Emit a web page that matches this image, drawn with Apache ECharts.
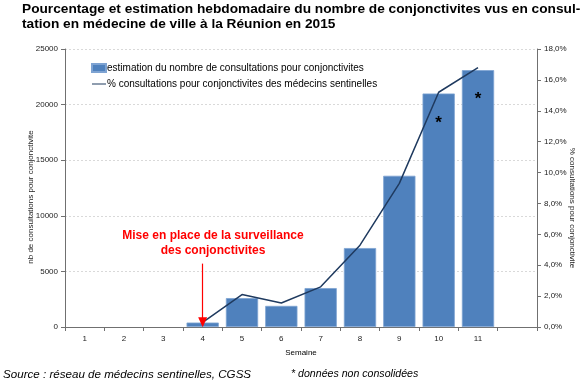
<!DOCTYPE html>
<html><head><meta charset="utf-8">
<script src="https://cdn.jsdelivr.net/npm/echarts@6/dist/echarts.min.js"></script>
<style>html,body{margin:0;padding:0;background:#fff}#c{width:582px;height:387px}</style>
</head><body><div id="c"></div>
<script>
const weeks = ['1','2','3','4','5','6','7','8','9','10','11',''];
const consultations = [null,null,null,400,2600,1900,3500,7100,13600,21000,23100,null];
const percent = [null,null,null,0.3,2.1,1.55,2.6,5.3,9.3,15.2,16.8,null];
const unconsolidated = ['10','11'];

const chart = echarts.init(document.getElementById('c'));
const FONT = 'Liberation Sans, Arial, sans-serif';
chart.setOption({
  animation:false,
  textStyle:{fontFamily:FONT},
  title:{
    text:'Pourcentage et estimation hebdomadaire du nombre de conjonctivites vus en consul-\ntation en médecine de ville à la Réunion en 2015',
    left:17, top:-3,
    textStyle:{fontSize:13.7,fontWeight:'bold',color:'#000',lineHeight:15,fontFamily:FONT}
  },
  legend:{
    left:86, top:58, orient:'vertical', itemGap:6, itemWidth:14, itemHeight:8,
    textStyle:{fontSize:10,color:'#000',fontFamily:FONT,padding:[0,0,0,-4]},
    data:[
      {name:'estimation du nombre de consultations pour conjonctivites', icon:'rect'},
      {name:'% consultations pour conjonctivites des médecins sentinelles', icon:'path://M0,4 L14,4 L14,5 L0,5 Z'}
    ]
  },
  grid:{left:65, right:45, top:49, bottom:60, containLabel:false},
  xAxis:{
    type:'category', data:weeks, boundaryGap:true,
    name:'Semaine', nameLocation:'middle', nameGap:22,
    nameTextStyle:{fontSize:8,color:'#000'},
    axisLine:{lineStyle:{color:'#707070'}},
    axisTick:{show:true,alignWithLabel:false,length:4,lineStyle:{color:'#707070'}},
    axisLabel:{fontSize:8,color:'#222',margin:8}
  },
  yAxis:[
    {type:'value', min:0, max:25000, interval:5000,
     axisLine:{show:true,lineStyle:{color:'#707070'}},
     axisTick:{show:true,length:4,lineStyle:{color:'#707070'}},
     axisLabel:{fontSize:8,color:'#222',margin:7,formatter:v=>String(v)},
     splitLine:{show:true,lineStyle:{color:'#d9d9d9',type:[2,2]}}},
    {type:'value', min:0, max:18, interval:2, position:'right',
     axisLine:{show:true,lineStyle:{color:'#707070'}},
     axisTick:{show:true,length:4,inside:false,lineStyle:{color:'#707070'}},
     axisLabel:{fontSize:8,color:'#222',margin:7,formatter:v=>v.toFixed(1).replace('.',',')+'%'},
     splitLine:{show:false}}
  ],
  series:[
    {name:'estimation du nombre de consultations pour conjonctivites', type:'bar', yAxisIndex:0,
     barCategoryGap:'18%',
     itemStyle:{color:'#4F81BD',borderColor:'#7EA3D2',borderWidth:0.8},
     data:consultations.map((v,i)=>unconsolidated.includes(weeks[i]) ?
       {value:v,label:{show:true,position:'insideTop',distance:21,formatter:'*',fontSize:17,fontWeight:'bold',color:'#000'}} : v),
     markLine:{
       silent:true, symbol:['none','triangle'], symbolSize:[9,10],
       lineStyle:{color:'#FF0000',width:1.2,type:'solid'}, label:{show:false},
       data:[[{coord:['4',5700]},{coord:['4',420]}]]
     }
    },
    {name:'% consultations pour conjonctivites des médecins sentinelles', type:'line', yAxisIndex:1,
     data:percent, symbol:'none', connectNulls:false,
     lineStyle:{color:'#1F3A5F',width:1.5}, itemStyle:{color:'#1F3A5F'}}
  ],
  graphic:[
    {type:'text', x:31, y:197, rotation:Math.PI/2,
     style:{text:'nb de consultations pour conjonctivite', fill:'#222', font:'8px '+FONT, align:'center', verticalAlign:'middle'}},
    {type:'text', x:572, y:208, rotation:-Math.PI/2,
     style:{text:'% consultations pour conjonctivite', fill:'#222', font:'8px '+FONT, align:'center', verticalAlign:'middle'}},
    {type:'text', x:213, y:228, style:{text:'Mise en place de la surveillance\ndes conjonctivites', fill:'#FF0000', font:'bold 12px '+FONT, align:'center', lineHeight:15}},
    {type:'text', x:3, y:369, style:{text:'Source : réseau de médecins sentinelles, CGSS', fill:'#000', font:'italic 11.6px '+FONT}},
    {type:'text', x:291, y:369, style:{text:'* données non consolidées', fill:'#000', font:'italic 10.6px '+FONT}}
  ]
});
</script></body></html>
